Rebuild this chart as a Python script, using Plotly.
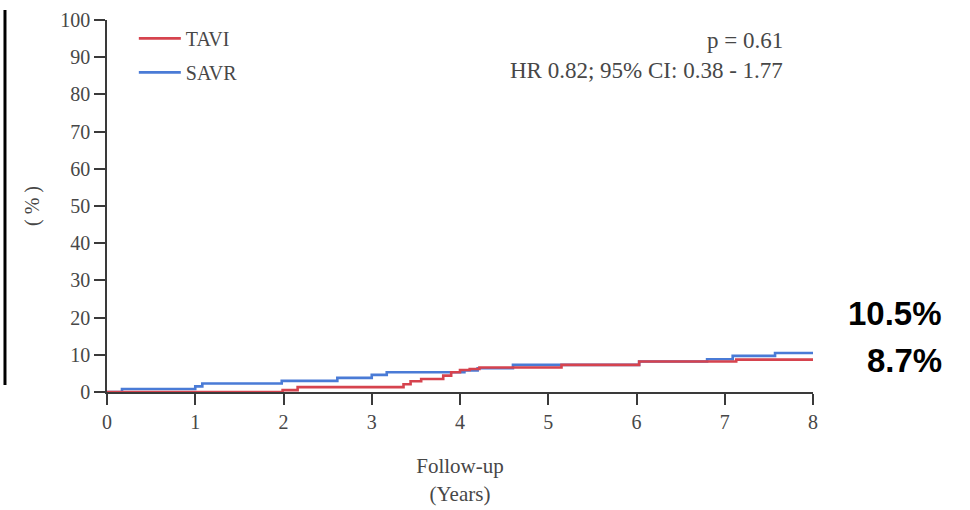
import plotly.graph_objects as go

# Data
tavi_t = [0, 1.99, 2.16, 3.36, 3.44, 3.56, 3.81, 3.90, 4.00, 4.11, 4.22, 5.15, 6.03, 7.13, 8.0]
tavi_v = [0, 0.5, 1.3, 2.1, 2.9, 3.5, 4.4, 5.3, 5.9, 6.2, 6.6, 7.3, 8.2, 8.7, 8.7]
savr_t = [0, 0.17, 1.00, 1.08, 1.98, 2.61, 3.00, 3.17, 4.05, 4.20, 4.60, 6.03, 6.80, 7.09, 7.57, 8.0]
savr_v = [0, 0.8, 1.5, 2.3, 3.0, 3.8, 4.6, 5.3, 5.8, 6.4, 7.3, 8.2, 8.8, 9.7, 10.5, 10.5]
x_ticks = [0, 1, 2, 3, 4, 5, 6, 7, 8]
y_ticks = [0, 10, 20, 30, 40, 50, 60, 70, 80, 90, 100]
final_labels = ["10.5%", "8.7%"]

RED = "#d6434e"
BLUE = "#4a7bd6"
SERIF = "Liberation Serif, Times New Roman, serif"
TXT = "#474747"

fig = go.Figure()
fig.add_trace(go.Scatter(x=savr_t, y=savr_v, mode="lines", name="SAVR",
                         line=dict(color=BLUE, width=2.6, shape="hv"),
                         legendgroup="b", legendrank=2, cliponaxis=False))
fig.add_trace(go.Scatter(x=tavi_t, y=tavi_v, mode="lines", name="TAVI",
                         line=dict(color=RED, width=2.6, shape="hv"),
                         legendgroup="a", legendrank=1, cliponaxis=False))

axis_common = dict(showgrid=False, zeroline=False, showline=True, linecolor="#3a3a3a",
                   linewidth=1.6, ticks="outside", ticklen=11, tickwidth=1.6, tickcolor="#3a3a3a",
                   tickfont=dict(family=SERIF, size=20, color=TXT), automargin=False)

fig.update_xaxes(range=[0, 8], tickvals=x_ticks, ticktext=[str(v) for v in x_ticks],
                 title=dict(text="Follow-up<br>(Years)", font=dict(family=SERIF, size=21, color=TXT),
                            standoff=27),
                 **axis_common)
fig.update_yaxes(range=[0, 100], tickvals=y_ticks, ticktext=[str(v) for v in y_ticks],
                 title=dict(text="( % )", font=dict(family=SERIF, size=20, color=TXT), standoff=15),
                 **axis_common)

fig.update_layout(
    width=970, height=510,
    margin=dict(l=107, r=157, t=20, b=118),
    paper_bgcolor="white", plot_bgcolor="white",
    legend=dict(x=0.038, y=1.003, xanchor="left", yanchor="top", traceorder="grouped",
                tracegroupgap=5, font=dict(family=SERIF, size=20, color=TXT),
                bgcolor="rgba(0,0,0,0)", itemwidth=42),
    annotations=[
        dict(x=0.960, y=0.946, xref="paper", yref="paper", text="p = 0.61", showarrow=False,
             xanchor="right", yanchor="middle", font=dict(family=SERIF, size=23, color=TXT)),
        dict(x=0.960, y=0.863, xref="paper", yref="paper", text="HR 0.82; 95% CI: 0.38 - 1.77",
             showarrow=False, xanchor="right", yanchor="middle",
             font=dict(family=SERIF, size=23, color=TXT)),
        dict(x=1.1856, y=(392 - 313) / 372, xref="paper", yref="paper", text="<b>" + final_labels[0] + "</b>",
             showarrow=False, xanchor="right", yanchor="middle",
             font=dict(family="Liberation Sans, Arial, sans-serif", size=33, color="black")),
        dict(x=1.1856, y=(392 - 360) / 372, xref="paper", yref="paper", text="<b>" + final_labels[1] + "</b>",
             showarrow=False, xanchor="right", yanchor="middle",
             font=dict(family="Liberation Sans, Arial, sans-serif", size=33, color="black")),
    ],
    shapes=[dict(type="line", xref="paper", yref="paper", x0=-0.1445, x1=-0.1445,
                 y0=(392 - 385) / 372, y1=(392 - 10) / 372, line=dict(color="black", width=3))],
)

fig.write_html("out.html")
